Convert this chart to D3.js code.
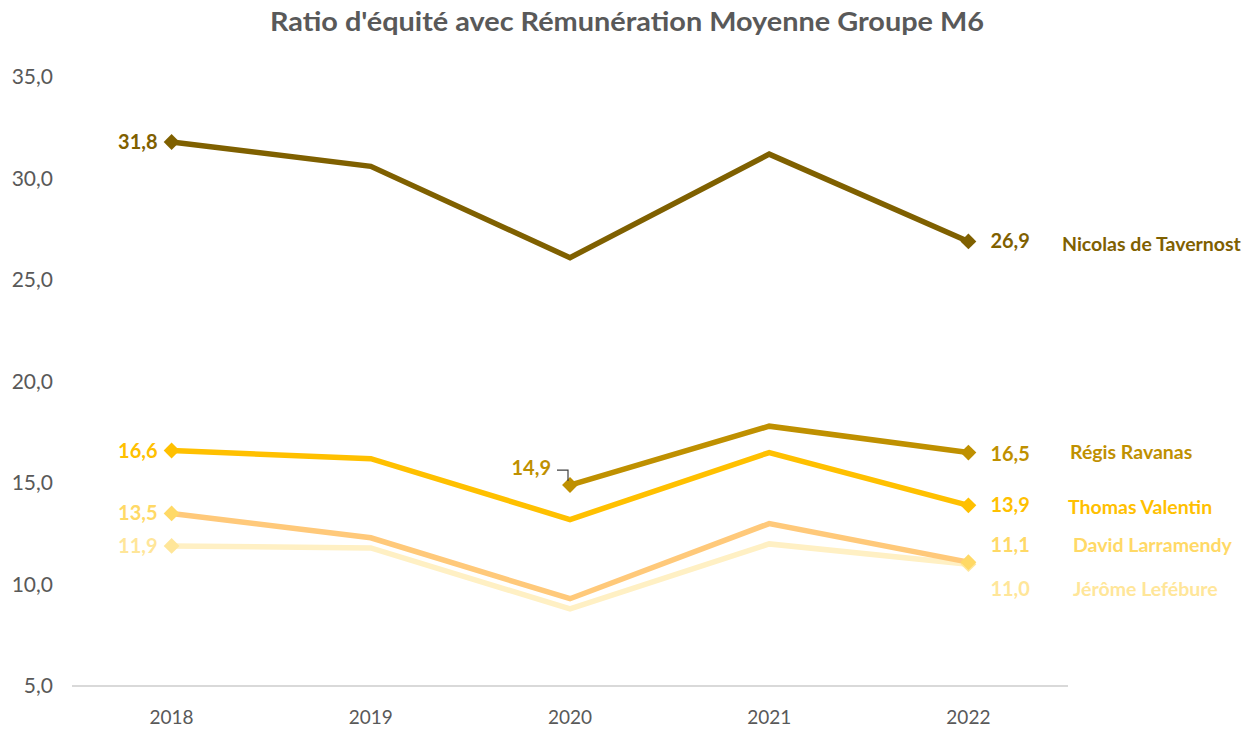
<!DOCTYPE html>
<html><head><meta charset="utf-8">
<script src="https://cdn.jsdelivr.net/npm/d3@7"></script>
<style>body{margin:0;background:#fff}svg{display:block}text{font-family:Lato,"Open Sans",sans-serif}</style>
</head><body><svg id="c" width="1252" height="731"></svg>
<script>
const years = ["2018","2019","2020","2021","2022"];
const yTicks = [5,10,15,20,25,30,35];
const names = ["Nicolas de Tavernost","Régis Ravanas","Thomas Valentin","David Larramendy","Jérôme Lefébure"];
const nicolas = [31.8,30.6,26.1,31.2,26.9];
const regis = [null,null,14.9,17.8,16.5];
const thomas = [16.6,16.2,13.2,16.5,13.9];
const david = [13.5,12.3,9.3,13.0,11.1];
const jerome = [11.9,11.8,8.8,12.0,11.0];
const title = "Ratio d'équité avec Rémunération Moyenne Groupe M6";

// styles (not data)
const styles = [
  {line:"#7f6000", marker:"#7f6000", label:"#7f6000", endDy:0, nameX:1062, nameDy:10},
  {line:"#bf9000", marker:"#bf9000", label:"#bf9000", endDy:1, nameX:1070, nameDy:6},
  {line:"#ffc000", marker:"#ffc000", label:"#ffc000", endDy:0, nameX:1068, nameDy:9},
  {line:"#ffc97a", marker:"#ffd966", label:"#ffd966", endDy:-17, nameX:1073, nameDy:-10},
  {line:"#fff0c4", marker:"#ffe699", label:"#ffe699", endDy:25, nameX:1073, nameDy:32}
];
const seriesVals = [nicolas, regis, thomas, david, jerome];

const svg = d3.select("#c");
const x = d3.scaleBand().domain(years).range([72,1068]);
const cx = d => x(d) + x.bandwidth()/2;
const y = d3.scaleLinear().domain([5,35]).range([686,77]);

svg.append("text").attr("x",627).attr("y",31).attr("text-anchor","middle")
  .attr("font-size",26).attr("font-weight","bold").attr("fill","#595959")
  .attr("textLength",714).attr("lengthAdjust","spacingAndGlyphs").text(title);

svg.append("g").selectAll("text").data(yTicks).join("text")
  .attr("x",53).attr("y",d=>y(d)+7).attr("text-anchor","end")
  .attr("font-size",21).attr("fill","#595959").text(d=>d.toFixed(1).replace(".",","));

svg.append("line").attr("x1",72).attr("x2",1068).attr("y1",y(5)).attr("y2",y(5))
  .attr("stroke","#d9d9d9").attr("stroke-width",2);
svg.append("g").selectAll("text").data(years).join("text")
  .attr("x",d=>cx(d)).attr("y",724).attr("text-anchor","middle")
  .attr("font-size",19).attr("fill","#595959").text(d=>d);

const fmt = v => v.toFixed(1).replace(".",",");
const diamond = d3.symbol().type(d3.symbolDiamond2).size(160);

for (let i = seriesVals.length-1; i>=0; i--) {
  const vals = seriesVals[i], st = styles[i];
  const pts = years.map((yr,j)=>({yr, v:vals[j]})).filter(p=>p.v!=null);
  const line = d3.line().x(p=>cx(p.yr)).y(p=>y(p.v));
  svg.append("path").datum(pts).attr("d",line).attr("fill","none")
    .attr("stroke",st.line).attr("stroke-width",5.5).attr("stroke-linejoin","miter");
  const ends = [pts[0], pts[pts.length-1]];
  svg.append("g").selectAll("path").data(ends).join("path")
    .attr("transform",p=>`translate(${cx(p.yr)},${y(p.v)})`)
    .attr("d",diamond).attr("fill",st.marker);
  const first = pts[0], last = pts[pts.length-1];
  if (first.yr === "2018") {
    svg.append("text").attr("x",cx(first.yr)-14).attr("y",y(first.v)+7).attr("text-anchor","end")
      .attr("font-size",20).attr("font-weight","bold").attr("fill",st.label).text(fmt(first.v));
  } else {
    svg.append("text").attr("x",cx(first.yr)-19).attr("y",y(first.v)-10).attr("text-anchor","end")
      .attr("font-size",20).attr("font-weight","bold").attr("fill",st.label).text(fmt(first.v));
    svg.append("path").attr("d",`M${cx(first.yr)-13},${y(first.v)-15}H${cx(first.yr)-2}V${y(first.v)-4}`)
      .attr("fill","none").attr("stroke","#404040").attr("stroke-width",1.2);
  }
  svg.append("text").attr("x",cx(last.yr)+22).attr("y",y(last.v)+7+st.endDy)
    .attr("font-size",20).attr("font-weight","bold").attr("fill",st.label).text(fmt(last.v));
  svg.append("text").attr("x",st.nameX).attr("y",y(last.v)+st.nameDy)
    .attr("font-size",19.5).attr("font-weight","bold").attr("fill",st.label).text(names[i]);
}
</script></body></html>
